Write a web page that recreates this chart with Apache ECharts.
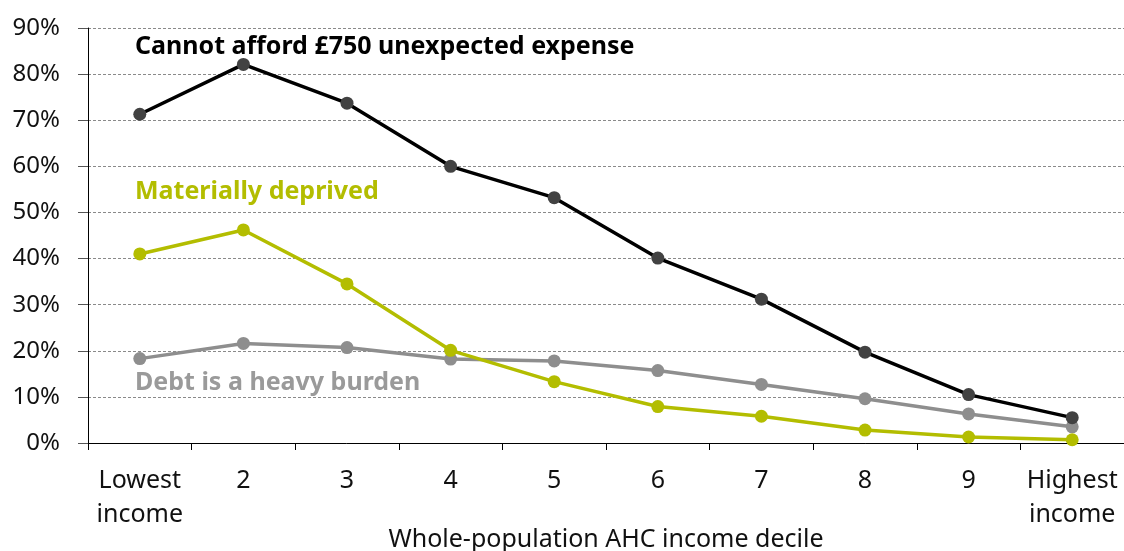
<!DOCTYPE html>
<html>
<head>
<meta charset="utf-8">
<script src="https://cdn.jsdelivr.net/npm/echarts@6/dist/echarts.min.js"></script>
<style>
  html, body { margin: 0; padding: 0; background: #fff; }
  #chart { width: 1124px; height: 551px; }
</style>
</head>
<body>
<div id="chart"></div>
<script>
// Income deciles (after housing costs), lowest to highest
const deciles = ['Lowest\nincome', '2', '3', '4', '5', '6', '7', '8', '9', 'Highest\nincome'];

// Share of people in each decile (%)
const cannotAfford = [71.3, 82.1, 73.7, 60.0, 53.2, 40.1, 31.2, 19.7, 10.5, 5.5];
const materiallyDeprived = [41.0, 46.2, 34.5, 20.1, 13.3, 7.9, 5.8, 2.8, 1.3, 0.7];
const debtBurden = [18.3, 21.6, 20.7, 18.2, 17.8, 15.7, 12.7, 9.6, 6.3, 3.5];

const yTicks = { min: 0, max: 90, interval: 10 };

const FONT = '"Noto Sans", "Open Sans", sans-serif';
const BLACK = '#000000';
const DARK_DOT = '#424242';
const GREEN = '#b3bd00';
const GREY = '#8e8e8e';
const GREY_TEXT = '#9a9a9a';

const chart = echarts.init(document.getElementById('chart'), null, { renderer: 'canvas' });

function lineSeries(name, data, lineColor, dotColor) {
  return {
    name: name,
    type: 'line',
    data: data,
    symbol: 'circle',
    symbolSize: 13,
    showAllSymbol: true,
    lineStyle: { color: lineColor, width: 3.5 },
    itemStyle: { color: dotColor },
    emphasis: { disabled: true },
    animation: false
  };
}

chart.setOption({
  animation: false,
  textStyle: { fontFamily: FONT },
  grid: { left: 88, right: 0, top: 28, bottom: 108, containLabel: false, outerBoundsMode: 'none' },
  xAxis: {
    type: 'category',
    data: deciles,
    boundaryGap: true,
    name: 'Whole-population AHC income decile',
    nameLocation: 'middle',
    nameGap: 84,
    nameMoveOverlap: false,
    nameTextStyle: { fontFamily: FONT, fontSize: 25, color: '#111' },
    axisLine: { lineStyle: { color: '#000', width: 1 } },
    axisTick: { show: true, length: 7, alignWithLabel: false, lineStyle: { color: '#000' } },
    axisLabel: {
      fontFamily: FONT, fontSize: 25, color: '#111',
      margin: 21, lineHeight: 34, interval: 0
    },
    splitLine: { show: false }
  },
  yAxis: {
    type: 'value',
    min: yTicks.min,
    max: yTicks.max,
    interval: yTicks.interval,
    axisLine: { show: true, lineStyle: { color: '#000', width: 1 } },
    axisTick: { show: true, length: 10, lineStyle: { color: '#555' } },
    axisLabel: {
      fontFamily: FONT, fontSize: 24, color: '#111', margin: 28,
      formatter: '{value}%'
    },
    splitLine: { show: true, lineStyle: { color: '#8a8a8a', width: 1, type: [3, 2] } }
  },
  series: [
    lineSeries('Debt is a heavy burden', debtBurden, GREY, GREY),
    lineSeries('Materially deprived', materiallyDeprived, GREEN, GREEN),
    lineSeries('Cannot afford £750 unexpected expense', cannotAfford, BLACK, DARK_DOT)
  ],
  graphic: [
    { type: 'text', left: 135, top: 34, silent: true,
      style: { text: 'Cannot afford £750 unexpected expense', fill: '#000', font: 'bold 25px ' + FONT } },
    { type: 'text', left: 135, top: 179, silent: true,
      style: { text: 'Materially deprived', fill: GREEN, font: 'bold 25px ' + FONT } },
    { type: 'text', left: 135, top: 370, silent: true,
      style: { text: 'Debt is a heavy burden', fill: GREY_TEXT, font: 'bold 25px ' + FONT } }
  ]
});
</script>
</body>
</html>
